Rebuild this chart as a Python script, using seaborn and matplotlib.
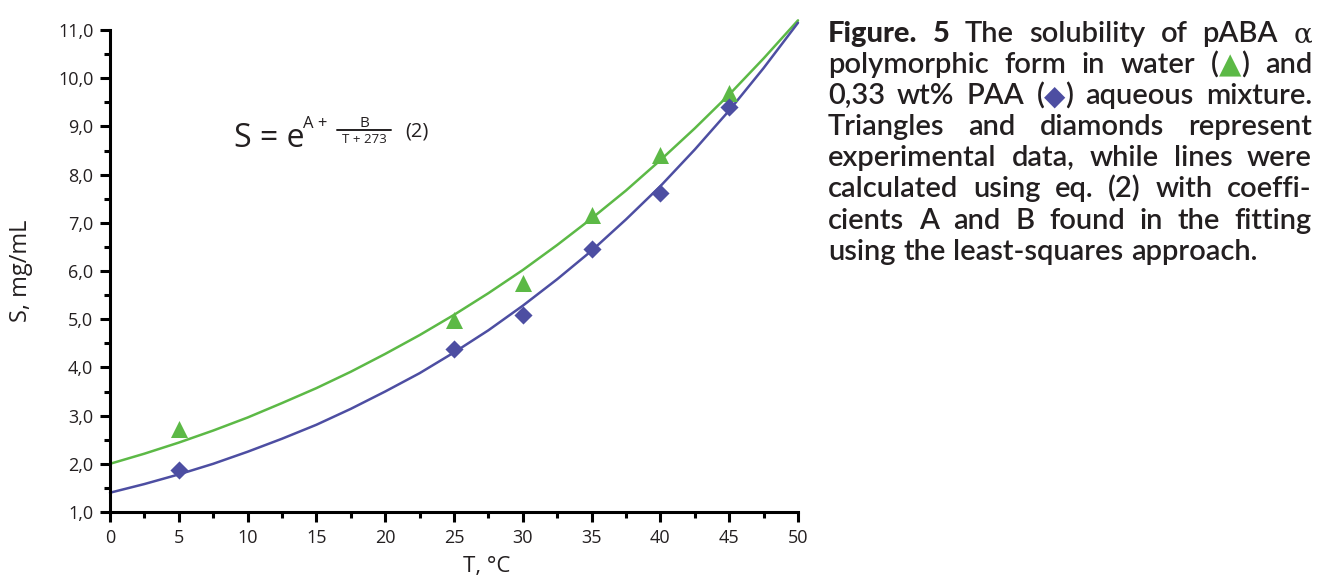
import re
import numpy as np
import pandas as pd
import matplotlib
matplotlib.use("Agg")
import matplotlib.pyplot as plt
import seaborn as sns
from matplotlib.lines import Line2D
from matplotlib.ticker import MultipleLocator, FuncFormatter

# experimental points
T_EXP = [5, 25, 30, 35, 40, 45]
S_WATER = [2.73, 4.98, 5.75, 7.17, 8.41, 9.69]
S_PAA = [1.88, 4.38, 5.09, 6.46, 7.62, 9.40]

# curves calculated with eq. (2), read every 2.5 degC
T_FIT = [0, 2.5, 5, 7.5, 10, 12.5, 15, 17.5, 20, 22.5, 25,
         27.5, 30, 32.5, 35, 37.5, 40, 42.5, 45, 47.5, 50]
S_WATER_FIT = [2.00, 2.21, 2.44, 2.69, 2.96, 3.26, 3.57, 3.91, 4.28, 4.67, 5.09,
               5.54, 6.02, 6.54, 7.09, 7.67, 8.30, 8.96, 9.66, 10.41, 11.20]
S_PAA_FIT = [1.40, 1.58, 1.78, 2.00, 2.25, 2.52, 2.81, 3.14, 3.50, 3.88, 4.31,
             4.77, 5.28, 5.83, 6.42, 7.07, 7.76, 8.52, 9.33, 10.21, 11.15]

GREEN = "#5cb946"
BLUE = "#4d4ea2"
INK = "#231f20"

CAPTION = [
    "*Figure.* *5* The solubility of pABA {alpha}",
    "polymorphic form in water ({tri}) and",
    "0,33 wt% PAA ({dia}) aqueous mixture.",
    "Triangles and diamonds represent",
    "experimental data, while lines were",
    "calculated using eq. (2) with coeffi-",
    "cients A and B found in the fitting",
    "using the least-squares approach.",
]

W, H = 1318, 580

sns.set_style("ticks")
plt.rcParams["font.family"] = ["Open Sans", "DejaVu Sans"]

fit_df = pd.DataFrame({
    "T": T_FIT * 2,
    "S": S_WATER_FIT + S_PAA_FIT,
    "medium": ["water"] * len(T_FIT) + ["PAA"] * len(T_FIT),
})
exp_df = pd.DataFrame({
    "T": T_EXP * 2,
    "S": S_WATER + S_PAA,
    "medium": ["water"] * len(T_EXP) + ["PAA"] * len(T_EXP),
})
pal = {"water": GREEN, "PAA": BLUE}

fig = plt.figure(figsize=(W / 100, H / 100), dpi=100)
ax = fig.add_axes([110 / W, 1 - 512 / H, 688 / W, 482 / H])

sns.lineplot(data=fit_df, x="T", y="S", hue="medium", palette=pal,
             linewidth=1.8, legend=False, ax=ax, clip_on=False, zorder=2)
sns.scatterplot(data=exp_df[exp_df.medium == "water"], x="T", y="S",
                color=GREEN, marker="^", s=150, linewidth=0, ax=ax,
                clip_on=False, zorder=3)
sns.scatterplot(data=exp_df[exp_df.medium == "PAA"], x="T", y="S",
                color=BLUE, marker="D", s=85, linewidth=0, ax=ax,
                clip_on=False, zorder=3)

ax.set_xlim(0, 50)
ax.set_ylim(1, 11)
ax.xaxis.set_major_locator(MultipleLocator(5))
ax.xaxis.set_minor_locator(MultipleLocator(2.5))
ax.yaxis.set_major_locator(MultipleLocator(1))
ax.yaxis.set_minor_locator(MultipleLocator(0.5))
ax.yaxis.set_major_formatter(FuncFormatter(lambda v, p: f"{v:.1f}".replace(".", ",")))
ax.xaxis.set_major_formatter(FuncFormatter(lambda v, p: f"{v:.0f}"))

sns.despine(ax=ax)
for side in ["left", "bottom"]:
    ax.spines[side].set_linewidth(2.2)
    ax.spines[side].set_color("black")
ax.tick_params(which="major", direction="out", length=7, width=2.2,
               color="black", labelsize=13, labelcolor=INK, pad=5)
ax.tick_params(which="minor", direction="out", length=4, width=2.2, color="black")

ax.set_xlabel("T, °C", fontsize=16, color=INK)
ax.set_ylabel("S, mg/mL", fontsize=17, color=INK)
ax.xaxis.set_label_coords(0.548, -0.092)
ax.yaxis.set_label_coords(-0.112, 0.5)

# equation (2), laid out by hand
eq = dict(color=INK, va="baseline", ha="left")
fig.text(234 / W, 1 - 147 / H, "S = e", fontsize=23, **eq)
fig.text(303 / W, 1 - 128 / H, "A +", fontsize=12, **eq)
fig.text(364 / W, 1 - 127 / H, "B", fontsize=11, color=INK, va="baseline", ha="center")
fig.text(364 / W, 1 - 143 / H, "T + 273", fontsize=9.5, color=INK, va="baseline", ha="center")
fig.add_artist(Line2D([337 / W, 391 / W], [1 - 130 / H, 1 - 130 / H], color=INK, lw=1.4))
fig.text(405 / W, 1 - 137 / H, "(2)", fontsize=14.5, **eq)

# justified caption
CAP_SIZE = 21
body = dict(family=["Lato", "DejaVu Sans"], weight="semibold", size=CAP_SIZE, color=INK)
bold = dict(body, weight="black")
special = {
    "{tri}": ("▲", dict(family="DejaVu Sans", size=CAP_SIZE, color=GREEN)),
    "{dia}": ("◆", dict(family="DejaVu Sans", size=CAP_SIZE - 1, color=BLUE)),
    "{alpha}": ("α", dict(family="DejaVu Serif", size=CAP_SIZE - 1, color=INK)),
}
token = re.compile(r"(\*[^*]+\*|\{tri\}|\{dia\}|\{alpha\})")

renderer = fig.canvas.get_renderer()
left, right = 828, 1312
base0, step = 42, 31.1
for i, line in enumerate(CAPTION):
    y = 1 - (base0 + i * step) / H
    words = []
    for w in line.split(" "):
        segs = []
        for p in [p for p in token.split(w) if p]:
            if p in special:
                txt, st = special[p]
            elif p.startswith("*"):
                txt, st = p[1:-1], bold
            else:
                txt, st = p, body
            t = fig.text(0, y, txt, va="baseline", ha="left", **st)
            segs.append((t, t.get_window_extent(renderer).width))
        words.append(segs)
    widths = [sum(s[1] for s in segs) for segs in words]
    if i < len(CAPTION) - 1:
        gap = (right - left - sum(widths)) / (len(words) - 1)
    else:
        gap = 0.26 * CAP_SIZE * 100 / 72
    x = left
    for segs, ww in zip(words, widths):
        xs = x
        for t, sw in segs:
            t.set_x(xs / W)
            xs += sw
        x += ww + gap

fig.savefig("out.png", dpi=100)
